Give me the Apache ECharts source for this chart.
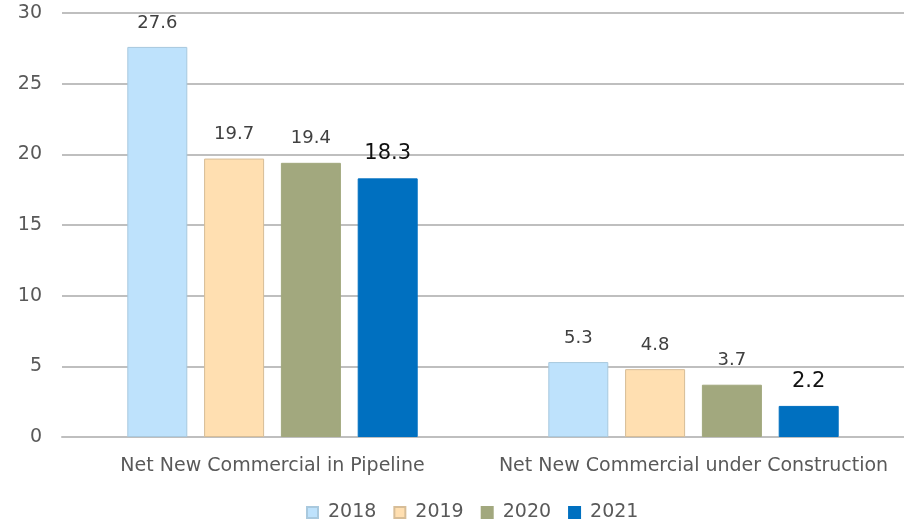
<!DOCTYPE html>
<html>
<head>
<meta charset="utf-8">
<script src="https://cdn.jsdelivr.net/npm/echarts@6/dist/echarts.min.js"></script>
<style>
  html, body { margin: 0; padding: 0; background: #fff; }
  #chart { width: 904px; height: 526px; }
</style>
</head>
<body>
<div id="chart"></div>
<script>
// categories and values
const categories = ['Net New Commercial in Pipeline', 'Net New Commercial under Construction']
const years = ['2018', '2019', '2020', '2021']
const values2018 = [27.6, 5.3]
const values2019 = [19.7, 4.8]
const values2020 = [19.4, 3.7]
const values2021 = [18.3, 2.2]

const fills = ['#BEE2FC', '#FFDFB1', '#A2A87E', '#0070C0']
const borders = ['#A9C9DE', '#D7BD97', '#A2A87E', '#0070C0']
const font = '"DejaVu Sans", sans-serif'

const allValues = [values2018, values2019, values2020, values2021]

const series = years.map((y, i) => ({
  name: y,
  type: 'bar',
  data: allValues[i],
  barWidth: 60,
  barGap: '28%',
  itemStyle: {color: fills[i], borderColor: borders[i], borderWidth: 1},
  label: {
    show: true,
    position: 'top',
    distance: i === 3 ? 14 : 15,
    fontFamily: font,
    fontSize: i === 3 ? 21 : 18,
    color: i === 3 ? '#111' : '#404040'
  }
}))

const chart = echarts.init(document.getElementById('chart'))
chart.setOption({
  animation: false,
  textStyle: {fontFamily: font},
  grid: {left: 62, right: 0, top: 13, bottom: 89},
  legend: {
    top: 498,
    left: 301,
    icon: 'rect',
    itemWidth: 11,
    itemHeight: 11,
    itemGap: 17,
    textStyle: {fontSize: 19, color: '#595959', fontFamily: font, padding: [0, 0, 0, 5]}
  },
  xAxis: {
    type: 'category',
    data: categories,
    axisTick: {show: false},
    axisLine: {lineStyle: {color: '#BFBFBF', width: 2}},
    axisLabel: {fontSize: 19, color: '#595959', margin: 20, interval: 0}
  },
  yAxis: {
    type: 'value',
    min: 0,
    max: 30,
    interval: 5,
    axisLine: {show: false},
    axisTick: {show: false},
    splitLine: {lineStyle: {color: '#BFBFBF', width: 2}},
    axisLabel: {fontSize: 19, color: '#595959', margin: 20}
  },
  series: series
})
</script>
</body>
</html>
